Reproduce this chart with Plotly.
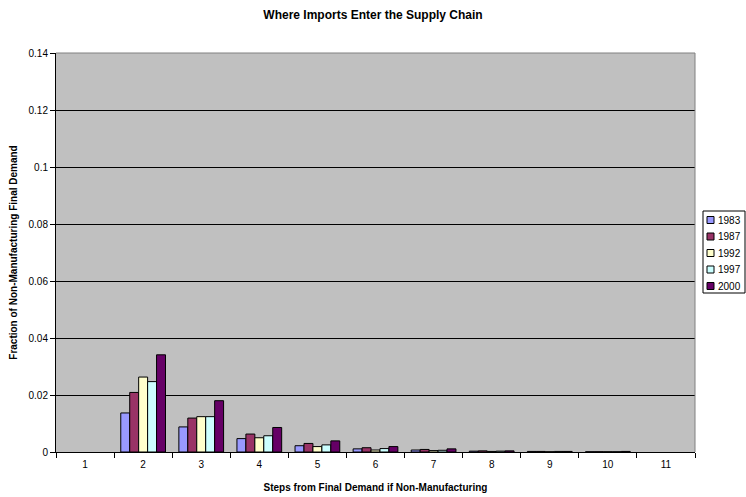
import plotly.graph_objects as go

# Steps from final demand (categories on the x axis)
steps = ["1", "2", "3", "4", "5", "6", "7", "8", "9", "10", "11"]

# Fraction of non-manufacturing final demand, by year (None = no bar)
y1983 = [None, 0.0137, 0.0088, 0.0047, 0.0022, 0.0011, 0.0007, 0.0003, 0.0002, 0.0001, None]
y1987 = [None, 0.0209, 0.0119, 0.0063, 0.0030, 0.0015, 0.0009, 0.0004, 0.0002, 0.0001, None]
y1992 = [None, 0.0263, 0.0124, 0.0050, 0.0019, 0.0007, 0.0005, 0.0002, 0.0001, 0.0001, None]
y1997 = [None, 0.0247, 0.0124, 0.0057, 0.0025, 0.0012, 0.0006, 0.0003, 0.0002, 0.0001, None]
y2000 = [None, 0.0341, 0.0180, 0.0086, 0.0039, 0.0019, 0.0011, 0.0004, 0.0002, 0.0002, None]

years = ["1983", "1987", "1992", "1997", "2000"]
series = [y1983, y1987, y1992, y1997, y2000]
colors = ["#9999FF", "#993366", "#FFFFCC", "#CCFFFF", "#660066"]

FONT = "Liberation Sans, Arial, sans-serif"
W, H = 746, 497
ML, MR, MT, MB = 56, 51, 53, 45
PW, PH = W - ML - MR, H - MT - MB


def px_x(x):
    """pixel column -> paper x"""
    return (x - ML) / PW


def px_y(y):
    """pixel row -> paper y"""
    return (H - MB - y) / PH


fig = go.Figure()
for name, vals, col in zip(years, series, colors):
    fig.add_trace(go.Bar(
        x=steps, y=vals, name=name,
        marker=dict(color=col, line=dict(color="#000000", width=1)),
        showlegend=False,
    ))

fig.update_layout(
    width=W, height=H,
    margin=dict(l=ML, r=MR, t=MT, b=MB),
    paper_bgcolor="#FFFFFF",
    plot_bgcolor="#C0C0C0",
    barmode="group",
    bargap=0.23,
    bargroupgap=0,
    font=dict(family=FONT, size=10, color="#000000"),
    title=dict(
        text="<b>Where Imports Enter the Supply Chain</b>",
        x=0.5, xanchor="center", y=1 - 15 / H, yanchor="middle",
        font=dict(family=FONT, size=12, color="#000000"),
    ),
    showlegend=False,
)

fig.update_xaxes(
    type="category",
    automargin=False,
    tickson="boundaries",
    ticks="outside", ticklen=5, tickcolor="#000000",
    ticklabelstandoff=3,
    showline=True, linecolor="#000000", linewidth=1,
    showgrid=False,
    tickfont=dict(family=FONT, size=10),
    title=dict(text="<b>Steps from Final Demand if Non-Manufacturing</b>",
               font=dict(family=FONT, size=10), standoff=14),
)
fig.update_yaxes(
    automargin=False,
    range=[0, 0.14], dtick=0.02,
    ticks="outside", ticklen=5, tickcolor="#000000",
    showline=True, linecolor="#000000", linewidth=1,
    showgrid=True, gridcolor="#000000", gridwidth=1,
    zeroline=False,
    tickfont=dict(family=FONT, size=10),
    title=dict(text="<b>Fraction of Non-Manufacturing Final Demand</b>",
               font=dict(family=FONT, size=10), standoff=9),
)

# grey frame on the top and right edges of the plotting area
fig.add_shape(type="line", xref="paper", yref="paper", x0=0, x1=1, y0=1, y1=1,
              line=dict(color="#808080", width=1))
fig.add_shape(type="line", xref="paper", yref="paper", x0=1, x1=1, y0=0, y1=1,
              line=dict(color="#808080", width=1))

# legend box at the right of the plot
box_l, box_r, box_t, box_b = 703, 745, 211, 293
fig.add_shape(type="rect", xref="paper", yref="paper",
              x0=px_x(box_l), x1=px_x(box_r), y0=px_y(box_b), y1=px_y(box_t),
              fillcolor="#FFFFFF", line=dict(color="#000000", width=1))
row0, row_step = 220, 16.5
for i, (name, col) in enumerate(zip(years, colors)):
    cy = row0 + i * row_step
    fig.add_shape(type="rect", xref="paper", yref="paper",
                  x0=px_x(707), x1=px_x(714), y0=px_y(cy + 3.5), y1=px_y(cy - 3.5),
                  fillcolor=col, line=dict(color="#000000", width=1))
    fig.add_annotation(xref="paper", yref="paper", x=px_x(716), y=px_y(cy),
                       xanchor="left", yanchor="middle", showarrow=False,
                       text=name, font=dict(family=FONT, size=10, color="#000000"))

fig.write_html("out.html")
